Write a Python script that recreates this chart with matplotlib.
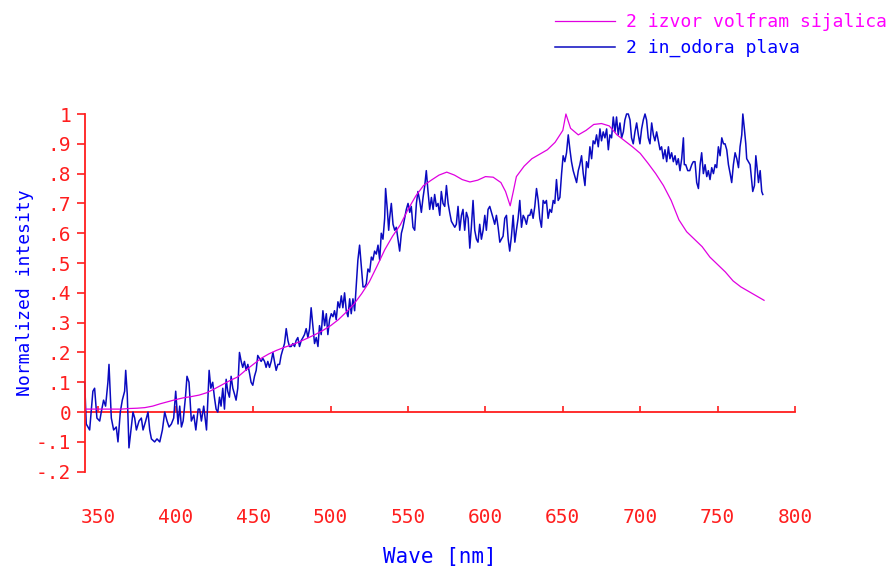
import matplotlib
matplotlib.use("Agg")
import matplotlib.pyplot as plt

# ---------------- data ----------------
series_names = ["2 izvor volfram sijalica", "2 in_odora plava"]
x_label = "Wave [nm]"
y_label = "Normalized intesity"

x_ticks = [350, 400, 450, 500, 550, 600, 650, 700, 750, 800]
y_ticks = [-0.2, -0.1, 0.0, 0.1, 0.2, 0.3, 0.4, 0.5, 0.6, 0.7, 0.8, 0.9, 1.0]
y_tick_labels = ["-.2", "-.1", "0", ".1", ".2", ".3", ".4", ".5", ".6", ".7", ".8", ".9", "1"]

lamp_nm = [342, 345, 350, 355, 360, 365, 370, 375, 380, 385, 390, 395, 400, 405, 410,
           415, 420, 425, 430, 435, 440, 445, 450, 455, 460, 465, 470, 475, 480, 485,
           490, 495, 500, 505, 510, 515, 520, 525, 530, 535, 540, 545, 550, 555, 560,
           565, 570, 575, 580, 585, 590, 595, 600, 605, 610, 613, 616, 618, 620, 625,
           630, 635, 640, 645, 650, 652, 655, 660, 665, 670, 675, 680, 685, 690, 695,
           700, 705, 710, 715, 720, 725, 730, 735, 740, 745, 750, 755, 760, 765, 770,
           775, 780]
lamp_val = [0.010, 0.010, 0.010, 0.010, 0.010, 0.010, 0.012, 0.013, 0.015, 0.020, 0.028,
            0.035, 0.042, 0.048, 0.052, 0.057, 0.065, 0.078, 0.092, 0.106, 0.118, 0.140,
            0.160, 0.180, 0.195, 0.207, 0.217, 0.226, 0.236, 0.248, 0.260, 0.274, 0.290,
            0.310, 0.335, 0.362, 0.397, 0.437, 0.490, 0.545, 0.590, 0.628, 0.680, 0.725,
            0.760, 0.778, 0.795, 0.805, 0.795, 0.780, 0.772, 0.778, 0.790, 0.788, 0.770,
            0.740, 0.692, 0.740, 0.790, 0.825, 0.850, 0.865, 0.880, 0.905, 0.945, 1.000,
            0.952, 0.930, 0.945, 0.965, 0.968, 0.960, 0.930, 0.910, 0.890, 0.868, 0.835,
            0.800, 0.760, 0.710, 0.645, 0.605, 0.580, 0.555, 0.520, 0.495, 0.470, 0.440,
            0.420, 0.405, 0.390, 0.375]

blue_nm = [
    341.1, 342.1, 344.3, 346.4, 347.5, 349.0, 350.8, 351.8, 353.3, 354.6, 356.1, 356.8,
    358.3, 359.8, 361.5, 362.6, 364.1, 365.4, 366.9, 367.6, 368.6, 369.7, 371.2, 372.3,
    373.4, 374.5, 376.2, 377.7, 378.8, 380.5, 382.0, 383.1, 384.2, 386.3, 387.8, 389.6,
    391.3, 392.8, 394.3, 395.6, 397.1, 398.6, 399.9, 401.4, 402.5, 403.6, 404.7, 406.2,
    407.2, 408.5, 410.0, 411.6, 412.9, 414.4, 415.4, 416.5, 418.0, 419.8, 421.5, 422.6,
    423.8, 424.9, 426.0, 427.1, 428.2, 429.2, 430.3, 431.4, 432.5, 433.5, 434.6, 435.7,
    436.8, 437.9, 438.9, 440.0, 441.1, 442.2, 443.2, 444.3, 445.4, 446.5, 447.6, 448.6,
    449.7, 450.8, 451.9, 452.9, 454.0, 455.1, 456.2, 457.3, 458.3, 459.4, 460.5, 461.6,
    462.7, 463.7, 464.8, 465.9, 467.0, 468.0, 469.1, 470.2, 471.3, 472.4, 473.4, 474.5,
    475.6, 476.7, 477.7, 478.8, 479.9, 481.0, 482.1, 483.1, 484.2, 485.3, 486.4, 487.4,
    488.5, 489.6, 490.7, 491.8, 492.8, 493.9, 495.0, 496.1, 497.2, 498.2, 499.3, 500.4,
    501.5, 502.5, 503.6, 504.7, 505.8, 506.9, 507.9, 509.0, 510.1, 511.2, 512.3, 513.3,
    514.4, 515.5, 516.6, 517.6, 518.7, 519.8, 520.9, 522.0, 523.0, 524.1, 525.2, 526.3,
    527.3, 528.4, 529.5, 530.6, 531.7, 532.7, 533.8, 534.9, 535.5, 536.6, 537.5, 538.1,
    539.2, 540.3, 541.4, 542.4, 543.5, 544.6, 545.7, 546.7, 547.8, 548.9, 550.0, 551.1,
    552.1, 553.2, 554.3, 555.4, 556.4, 557.5, 558.6, 559.7, 560.8, 561.8, 562.9, 564.0,
    565.1, 566.2, 567.2, 568.3, 569.4, 570.5, 571.5, 572.6, 573.7, 574.8, 575.9, 576.9,
    578.0, 579.1, 580.2, 581.2, 582.3, 583.4, 584.5, 585.5, 586.6, 587.7, 588.8, 589.9,
    590.9, 592.0, 593.1, 594.2, 595.2, 596.3, 597.4, 598.5, 599.6, 600.6, 601.7, 602.8,
    603.9, 605.0, 606.0, 607.1, 608.2, 609.3, 610.3, 611.4, 612.5, 613.6, 614.7, 615.7,
    616.8, 617.9, 619.0, 620.0, 621.1, 622.2, 623.3, 624.4, 625.4, 626.5, 627.6, 628.7,
    629.7, 630.8, 631.9, 633.0, 634.1, 635.1, 636.2, 637.3, 638.4, 639.4, 640.5, 641.6,
    642.7, 643.8, 644.8, 645.9, 647.0, 648.1, 649.2, 650.2, 651.3, 652.4, 653.5, 654.6,
    655.6, 656.7, 657.8, 658.9, 660.0, 661.0, 662.1, 663.2, 664.3, 665.3, 666.4, 667.5,
    668.6, 669.6, 670.7, 671.8, 672.9, 674.0, 675.0, 676.1, 677.2, 678.3, 679.4, 680.4,
    681.5, 682.6, 683.7, 684.7, 685.8, 686.9, 688.0, 689.1, 690.1, 691.2, 692.3, 693.4,
    694.4, 695.5, 696.6, 697.7, 698.8, 699.8, 700.9, 702.0, 703.1, 704.1, 705.2, 706.3,
    707.4, 708.5, 709.5, 710.6, 711.7, 712.8, 713.8, 714.9, 716.0, 717.1, 718.2, 719.2,
    720.3, 721.4, 722.5, 723.5, 724.6, 725.7, 726.8, 727.9, 728.5, 729.4, 730.7, 732.0,
    733.3, 734.3, 735.4, 736.5, 737.6, 738.7, 739.7, 740.8, 741.9, 743.0, 744.0, 745.1,
    746.2, 747.3, 748.4, 749.4, 750.5, 751.6, 752.7, 753.8, 754.8, 755.9, 757.0, 758.1,
    759.1, 760.2, 761.3, 762.4, 763.5, 764.5, 765.6, 766.3, 767.3, 768.2, 768.8, 769.9,
    771.0, 772.1, 772.7, 773.8, 774.7, 775.7, 776.4, 777.5, 778.5, 779.2]
blue_val = [
    0.10, -0.04, -0.06, 0.07, 0.08, -0.02, -0.03, 0.00, 0.04, 0.02, 0.10, 0.16,
    -0.02, -0.06, -0.05, -0.10, 0.00, 0.04, 0.07, 0.14, 0.06, -0.12, -0.05, 0.00,
    -0.02, -0.06, -0.03, -0.02, -0.06, -0.03, 0.00, -0.06, -0.09, -0.10, -0.09, -0.10,
    -0.06, 0.00, -0.03, -0.05, -0.04, -0.02, 0.07, -0.04, 0.02, -0.05, -0.03, 0.05,
    0.12, 0.10, -0.03, -0.01, -0.06, 0.01, 0.01, -0.03, 0.02, -0.06, 0.14, 0.08,
    0.10, 0.05, 0.01, 0.00, 0.05, 0.02, 0.08, 0.01, 0.11, 0.07, 0.05, 0.12,
    0.08, 0.06, 0.04, 0.08, 0.20, 0.17, 0.15, 0.17, 0.14, 0.16, 0.13, 0.10,
    0.09, 0.12, 0.14, 0.19, 0.18, 0.17, 0.18, 0.17, 0.15, 0.17, 0.15, 0.17,
    0.20, 0.17, 0.14, 0.16, 0.16, 0.19, 0.21, 0.23, 0.28, 0.24, 0.22, 0.22,
    0.23, 0.22, 0.24, 0.25, 0.22, 0.24, 0.25, 0.26, 0.28, 0.25, 0.28, 0.35,
    0.29, 0.23, 0.25, 0.22, 0.29, 0.26, 0.34, 0.29, 0.33, 0.26, 0.31, 0.33,
    0.32, 0.34, 0.31, 0.37, 0.35, 0.39, 0.35, 0.40, 0.34, 0.32, 0.38, 0.33,
    0.38, 0.34, 0.43, 0.51, 0.56, 0.49, 0.42, 0.42, 0.43, 0.48, 0.47, 0.52,
    0.51, 0.54, 0.53, 0.56, 0.51, 0.60, 0.58, 0.65, 0.75, 0.68, 0.61, 0.65,
    0.70, 0.63, 0.61, 0.62, 0.58, 0.54, 0.60, 0.62, 0.65, 0.68, 0.70, 0.67,
    0.69, 0.62, 0.61, 0.70, 0.74, 0.71, 0.67, 0.72, 0.76, 0.81, 0.74, 0.68,
    0.72, 0.68, 0.73, 0.69, 0.70, 0.66, 0.74, 0.70, 0.69, 0.76, 0.70, 0.67,
    0.64, 0.63, 0.62, 0.63, 0.69, 0.61, 0.66, 0.68, 0.61, 0.67, 0.65, 0.55,
    0.62, 0.71, 0.61, 0.58, 0.57, 0.63, 0.58, 0.61, 0.66, 0.61, 0.68, 0.69,
    0.67, 0.65, 0.63, 0.66, 0.62, 0.57, 0.58, 0.59, 0.65, 0.66, 0.58, 0.54,
    0.59, 0.66, 0.57, 0.61, 0.65, 0.71, 0.62, 0.66, 0.65, 0.63, 0.66, 0.66,
    0.68, 0.65, 0.69, 0.75, 0.71, 0.65, 0.62, 0.71, 0.70, 0.71, 0.65, 0.68,
    0.67, 0.71, 0.70, 0.78, 0.71, 0.72, 0.80, 0.86, 0.84, 0.87, 0.93, 0.88,
    0.84, 0.81, 0.79, 0.77, 0.81, 0.83, 0.86, 0.80, 0.76, 0.84, 0.82, 0.89,
    0.85, 0.91, 0.90, 0.93, 0.89, 0.95, 0.91, 0.94, 0.92, 0.95, 0.88, 0.93,
    0.92, 0.99, 0.94, 0.99, 0.93, 0.97, 0.92, 0.94, 0.98, 1.00, 1.00, 0.98,
    0.92, 0.90, 0.94, 0.97, 0.93, 0.90, 0.95, 0.98, 1.00, 0.98, 0.92, 0.90,
    0.97, 0.93, 0.91, 0.94, 0.91, 0.88, 0.89, 0.85, 0.88, 0.84, 0.89, 0.85,
    0.87, 0.84, 0.86, 0.83, 0.85, 0.81, 0.85, 0.92, 0.83, 0.83, 0.81, 0.81,
    0.83, 0.84, 0.84, 0.77, 0.75, 0.83, 0.87, 0.80, 0.83, 0.79, 0.81, 0.78,
    0.82, 0.80, 0.83, 0.82, 0.89, 0.86, 0.92, 0.90, 0.90, 0.88, 0.83, 0.80,
    0.77, 0.83, 0.87, 0.85, 0.82, 0.89, 0.93, 1.00, 0.95, 0.90, 0.85, 0.84,
    0.83, 0.77, 0.74, 0.76, 0.86, 0.81, 0.77, 0.81, 0.74, 0.73]

# ---------------- style ----------------
RED = "#FF1E1E"
MAGENTA_LINE = "#E000E0"
MAGENTA_TXT = "#FF00FF"
BLUE_LINE = "#0A0AC0"
BLUE_TXT = "#0000FF"
FONT = "DejaVu Sans Mono"

fig = plt.figure(figsize=(8.88, 5.71), dpi=100)
W, H = 888, 571
ax_left_px, ax_right_px = 85, 795
ax_top_px, ax_bot_px = 114, 471.7
ax = fig.add_axes([ax_left_px / W, 1 - ax_bot_px / H,
                   (ax_right_px - ax_left_px) / W, (ax_bot_px - ax_top_px) / H])

ax.plot(lamp_nm, lamp_val, color=MAGENTA_LINE, lw=0.9, clip_on=False,
        label=series_names[0], zorder=3)
ax.plot(blue_nm, blue_val, color=BLUE_LINE, lw=1.1, clip_on=False,
        label=series_names[1], zorder=2)

ax.set_xlim(341.3, 800)
ax.set_ylim(-0.2, 1.0)

for s in ["top", "right"]:
    ax.spines[s].set_visible(False)
ax.spines["left"].set_color(RED)
ax.spines["left"].set_linewidth(1.3)
ax.spines["bottom"].set_color(RED)
ax.spines["bottom"].set_linewidth(1.3)
ax.spines["bottom"].set_position(("data", 0))
ax.spines["bottom"].set_zorder(1)

ax.set_xticks(x_ticks)
ax.set_xticklabels([str(t) for t in x_ticks])
ax.set_yticks(y_ticks)
ax.set_yticklabels(y_tick_labels)

ax.tick_params(axis="x", direction="in", length=4, width=1.2, color=RED,
               labelcolor=RED, labelsize=14, pad=69)
ax.tick_params(axis="y", direction="out", length=6, width=1.2, color=RED,
               labelcolor=RED, labelsize=14, pad=4)
for lab in ax.get_xticklabels() + ax.get_yticklabels():
    lab.set_fontfamily(FONT)

ax.set_xlabel(x_label, color=BLUE_TXT, fontsize=15, fontfamily=FONT)
ax.xaxis.set_label_coords(0.5, -0.21)
ax.set_ylabel(y_label, color=BLUE_TXT, fontsize=13, fontfamily=FONT)
ax.yaxis.set_label_coords(-0.072, 0.5)

leg = fig.legend(loc="upper left", bbox_to_anchor=(555 / W, 1 - 13 / H),
                 frameon=False, prop={"family": FONT, "size": 13},
                 handlelength=3.3, handletextpad=0.65, labelspacing=0.45,
                 borderpad=0, borderaxespad=0)
for txt, col in zip(leg.get_texts(), [MAGENTA_TXT, BLUE_TXT]):
    txt.set_color(col)

fig.savefig("out.png", dpi=100, facecolor="white")
